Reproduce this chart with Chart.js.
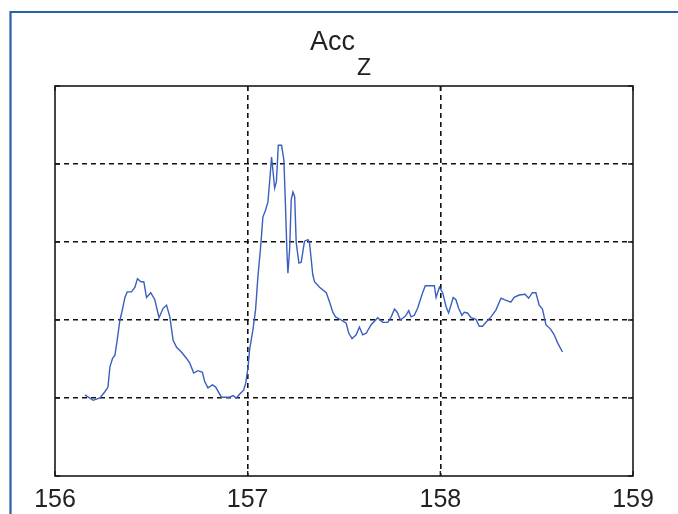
<!DOCTYPE html>
<html>
<head>
<meta charset="utf-8">
<script src="https://cdn.jsdelivr.net/npm/chart.js@4.4.0/dist/chart.umd.min.js"></script>
<style>
  html, body { margin: 0; padding: 0; background: #ffffff; }
  #wrap { width: 678px; height: 514px; position: relative; }
</style>
</head>
<body>
<div id="wrap"><canvas id="c" width="678" height="514"></canvas></div>
<script>
// ---- data ----
const titleMain = "Acc";
const titleSub = "Z";
const xTickValues = [156, 157, 158, 159];
const yTickValues = [0, 1, 2, 3, 4, 5];

const times = [
  156.155,156.198,156.233,156.259,156.275,156.285,156.299,156.311,156.321,156.337,
  156.346,156.363,156.375,156.397,156.415,156.428,156.446,156.461,156.475,156.497,
  156.518,156.540,156.561,156.579,156.596,156.613,156.631,156.656,156.682,156.699,
  156.720,156.742,156.765,156.777,156.794,156.817,156.834,156.864,156.907,156.924,
  156.941,156.959,156.979,156.990,157.002,157.010,157.027,157.041,157.053,157.066,
  157.073,157.079,157.093,157.105,157.114,157.124,157.131,157.140,157.149,157.159,
  157.176,157.188,157.197,157.204,157.209,157.218,157.226,157.235,157.244,157.252,
  157.266,157.278,157.295,157.313,157.321,157.338,157.347,157.373,157.408,157.425,
  157.442,157.456,157.485,157.511,157.525,157.542,157.563,157.580,157.597,157.615,
  157.641,157.675,157.701,157.727,157.745,157.762,157.776,157.793,157.819,157.836,
  157.848,157.865,157.882,157.908,157.922,157.969,157.978,157.995,158.012,158.030,
  158.043,158.055,158.067,158.081,158.095,158.112,158.124,158.141,158.159,158.185,
  158.202,158.219,158.237,158.263,158.289,158.315,158.332,158.366,158.383,158.409,
  158.440,158.458,158.478,158.496,158.513,158.530,158.548,158.573,158.591,158.608,
  158.634
];
const accZ = [
  1.04,0.97,1.00,1.08,1.14,1.40,1.51,1.55,1.71,2.00,
  2.09,2.29,2.36,2.36,2.42,2.53,2.49,2.49,2.29,2.35,
  2.26,2.03,2.15,2.19,2.04,1.74,1.65,1.59,1.51,1.45,
  1.32,1.35,1.33,1.21,1.13,1.17,1.14,1.01,1.01,1.03,
  1.00,1.05,1.10,1.19,1.40,1.62,1.87,2.13,2.55,2.90,
  3.12,3.32,3.41,3.51,3.77,4.09,3.92,3.69,3.77,4.24,
  4.24,4.05,3.41,2.86,2.60,2.92,3.54,3.64,3.58,2.99,
  2.73,2.74,3.01,3.03,2.99,2.58,2.49,2.42,2.35,2.23,
  2.10,2.04,2.00,1.96,1.83,1.76,1.81,1.91,1.81,1.83,
  1.94,2.03,1.97,1.97,2.04,2.14,2.10,2.00,2.05,2.12,
  2.04,2.06,2.15,2.35,2.44,2.44,2.29,2.42,2.35,2.17,
  2.09,2.19,2.29,2.26,2.15,2.06,2.10,2.09,2.03,2.01,
  1.92,1.92,1.97,2.04,2.13,2.28,2.26,2.23,2.29,2.32,
  2.33,2.28,2.35,2.35,2.19,2.14,1.94,1.88,1.81,1.71,
  1.59
];

// ---- build ----
const points = times.map((t, i) => ({ x: t, y: accZ[i] }));
const AXIS_COLOR = '#1a1a1a';
const FONT = '"Liberation Sans", Arial, Helvetica, sans-serif';

const edgeHidden = (vals) => (ctx) => {
  const v = ctx.tick ? ctx.tick.value : null;
  return (v === vals[0] || v === vals[vals.length - 1]) ? 'rgba(0,0,0,0)' : '#111111';
};

const framePlugin = {
  id: 'frame',
  beforeDraw(chart) {
    const c = chart.ctx;
    c.save();
    c.fillStyle = '#ffffff';
    c.fillRect(0, 0, chart.width, chart.height);
    c.strokeStyle = '#2a5fae';
    c.lineWidth = 2.2;
    c.beginPath();
    c.moveTo(10.5, chart.height);
    c.lineTo(10.5, 12);
    c.lineTo(chart.width, 12);
    c.stroke();
    c.restore();
  },
  afterDraw(chart) {
    const c = chart.ctx;
    const a = chart.chartArea;
    const xs = chart.scales.x, ys = chart.scales.y;
    c.save();
    // axes box
    c.strokeStyle = AXIS_COLOR;
    c.lineWidth = 1.6;
    c.setLineDash([]);
    c.strokeRect(a.left, a.top, a.right - a.left, a.bottom - a.top);
    // inward tick marks
    c.lineWidth = 1.4;
    c.beginPath();
    xTickValues.forEach(v => {
      const px = xs.getPixelForValue(v);
      c.moveTo(px, a.bottom); c.lineTo(px, a.bottom - 5);
      c.moveTo(px, a.top); c.lineTo(px, a.top + 5);
    });
    yTickValues.forEach(v => {
      const py = ys.getPixelForValue(v);
      c.moveTo(a.left, py); c.lineTo(a.left + 5, py);
      c.moveTo(a.right, py); c.lineTo(a.right - 5, py);
    });
    c.stroke();
    // title with subscript
    c.fillStyle = '#222222';
    c.textAlign = 'left';
    c.textBaseline = 'alphabetic';
    c.font = '27px ' + FONT;
    c.fillText(titleMain, 310, 50);
    const w = c.measureText(titleMain).width;
    c.font = '23px ' + FONT;
    c.fillText(titleSub, 310 + w + 2, 75);
    c.restore();
  }
};

new Chart(document.getElementById('c'), {
  type: 'line',
  data: {
    datasets: [{
      data: points,
      borderColor: '#3b5fbf',
      borderWidth: 1.4,
      pointRadius: 0,
      tension: 0,
      fill: false
    }]
  },
  options: {
    responsive: false,
    animation: false,
    devicePixelRatio: 1,
    layout: { padding: { left: 55, right: 45, top: 86, bottom: 0 } },
    plugins: { legend: { display: false }, tooltip: { enabled: false }, title: { display: false } },
    scales: {
      x: {
        type: 'linear',
        min: 156, max: 159,
        afterFit: s => { s.height = 38; },
        afterBuildTicks: s => { s.ticks = xTickValues.map(v => ({ value: v })); },
        grid: { color: edgeHidden(xTickValues), lineWidth: 1.6, drawTicks: false },
        border: { display: false, dash: [5, 4] },
        ticks: {
          padding: 9,
          color: '#222222',
          font: { family: FONT, size: 25 },
          maxRotation: 0,
          autoSkip: false,
          callback: v => String(v)
        }
      },
      y: {
        type: 'linear',
        min: 0, max: 5,
        afterFit: s => { s.width = 0; },
        afterBuildTicks: s => { s.ticks = yTickValues.map(v => ({ value: v })); },
        grid: { color: edgeHidden(yTickValues), lineWidth: 1.6, drawTicks: false },
        border: { display: false, dash: [5, 4] },
        ticks: { display: false }
      }
    }
  },
  plugins: [framePlugin]
});
</script>
</body>
</html>
